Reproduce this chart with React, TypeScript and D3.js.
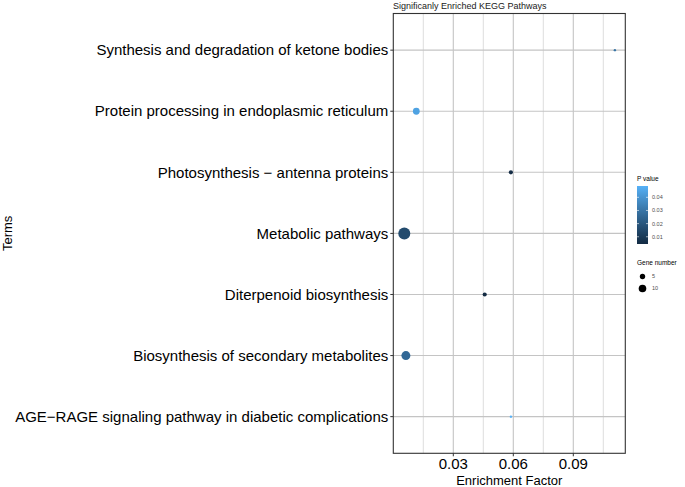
import React from "react";
import * as d3 from "d3";

const terms = [
  "Synthesis and degradation of ketone bodies",
  "Protein processing in endoplasmic reticulum",
  "Photosynthesis - antenna proteins",
  "Metabolic pathways",
  "Diterpenoid biosynthesis",
  "Biosynthesis of secondary metabolites",
  "AGE-RAGE signaling pathway in diabetic complications",
];
const enrichment = [0.1108, 0.0115, 0.0588, 0.0055, 0.0457, 0.0063, 0.0588];
const pValues = [0.03, 0.044, 0.005, 0.016, 0.0045, 0.026, 0.0486];
const geneNumbers = [1, 8, 3, 25, 3, 14, 1];
const xTicks = [0.03, 0.06, 0.09];
const xMinor = [0.015, 0.045, 0.075, 0.105];
const pTicks = [0.01, 0.02, 0.03, 0.04];
const sizeTicks = [5, 10];

const W = 685, H = 487;
const L = 393.3, R = 625.3, T = 13.5, B = 453.3;
const FONT = "Liberation Sans, Arial, Helvetica, sans-serif";

export default function App() {
  const x = d3.scaleLinear().domain([0, 0.116]).range([L, R]);
  const y = d3.scalePoint<string>().domain(terms).range([T, B]).padding(0.6);
  const pExt: [number, number] = [0.0045, 0.0486];
  const color = d3.scaleLinear<string>().domain(pExt).range(["#132B43", "#56B1F7"]).interpolate(d3.interpolateLab);
  const r = d3.scaleSqrt().domain([0, 25]).range([0, 6]);
  const barTop = 186, barBot = 244, barX = 637, barW = 11;
  const pY = d3.scaleLinear().domain(pExt).range([barBot, barTop]);
  const stops = d3.range(0, 1.0001, 0.1);
  const data = terms.map((t, i) => ({ t, e: enrichment[i], p: pValues[i], g: geneNumbers[i] }));
  return (
    <svg width={W} height={H} style={{ position: "absolute", left: 0, top: 0, background: "#fff" }} fontFamily={FONT}>
      <defs>
        <linearGradient id="pg" x1="0" y1="1" x2="0" y2="0">
          {stops.map((s) => (
            <stop key={s} offset={s} stopColor={color(pExt[0] + s * (pExt[1] - pExt[0]))} />
          ))}
        </linearGradient>
      </defs>
      <rect x={0} y={0} width={W} height={H} fill="#fff" />
      <text x={393} y={9} fontSize={9} fill="#1a1a1a">Significanly Enriched KEGG Pathways</text>
      {xMinor.map((v) => (
        <line key={"m" + v} x1={x(v)} x2={x(v)} y1={T} y2={B} stroke="#dadada" strokeWidth={0.9} />
      ))}
      {xTicks.map((v) => (
        <line key={"M" + v} x1={x(v)} x2={x(v)} y1={T} y2={B} stroke="#c4c4c4" strokeWidth={1.1} />
      ))}
      {terms.map((t) => (
        <line key={"h" + t} x1={L} x2={R} y1={y(t)} y2={y(t)} stroke="#c4c4c4" strokeWidth={1.1} />
      ))}
      {data.map((d) => (
        <circle key={d.t} cx={x(d.e)} cy={y(d.t)!} r={r(d.g)} fill={color(d.p)} />
      ))}
      <rect x={L} y={T} width={R - L} height={B - T} fill="none" stroke="#333" strokeWidth={1.1} />
      {terms.map((t) => (
        <g key={"yl" + t}>
          <line x1={L - 3} x2={L} y1={y(t)} y2={y(t)} stroke="#333" />
          <text x={L - 5} y={y(t)!} dy="0.35em" textAnchor="end" fontSize={15} fill="#000">
            {t.replace(" - ", " \u2212 ").replace("AGE-RAGE", "AGE\u2212RAGE")}
          </text>
        </g>
      ))}
      {xTicks.map((v) => (
        <g key={"xl" + v}>
          <line x1={x(v)} x2={x(v)} y1={B} y2={B + 3} stroke="#333" />
          <text x={x(v)} y={B + 16} textAnchor="middle" fontSize={15} fill="#000">{v.toFixed(2)}</text>
        </g>
      ))}
      <text x={(L + R) / 2} y={B + 32} textAnchor="middle" fontSize={13} fill="#000">Enrichment Factor</text>
      <text transform={`translate(12,${(T + B) / 2}) rotate(-90)`} textAnchor="middle" fontSize={13} fill="#000">Terms</text>
      <text x={barX} y={181} fontSize={6.5} fill="#000">P value</text>
      <rect x={barX} y={barTop} width={barW} height={barBot - barTop} fill="url(#pg)" />
      {pTicks.map((v) => (
        <g key={"pt" + v}>
          <line x1={barX} x2={barX + 2} y1={pY(v)} y2={pY(v)} stroke="#fff" strokeWidth={0.6} />
          <line x1={barX + barW - 2} x2={barX + barW} y1={pY(v)} y2={pY(v)} stroke="#fff" strokeWidth={0.6} />
          <text x={barX + barW + 4} y={pY(v)} dy="0.35em" fontSize={5.5} fill="#4d4d4d">{v.toFixed(2)}</text>
        </g>
      ))}
      <text x={barX} y={265} fontSize={6.5} fill="#000">Gene number</text>
      {sizeTicks.map((v, i) => (
        <g key={"s" + v}>
          <circle cx={642.5} cy={276.5 + i * 12} r={r(v)} fill="#000" />
          <text x={652} y={276.5 + i * 12} dy="0.35em" fontSize={5.5} fill="#4d4d4d">{v}</text>
        </g>
      ))}
    </svg>
  );
}
